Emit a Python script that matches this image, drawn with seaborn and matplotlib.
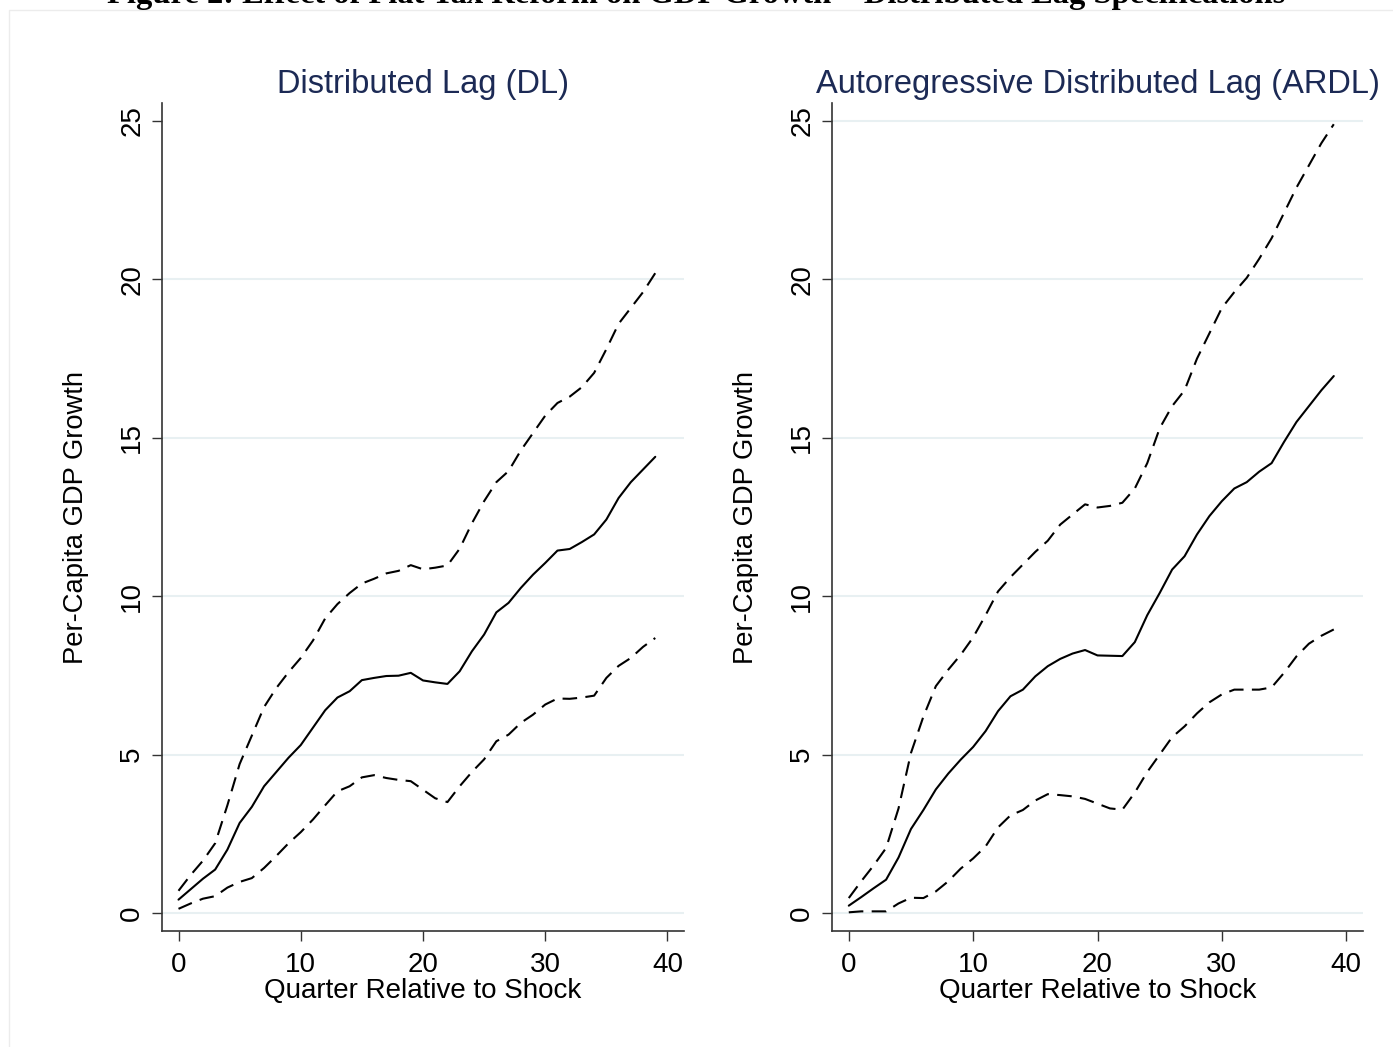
import matplotlib

matplotlib.use("Agg")
import matplotlib.pyplot as plt
import matplotlib.patches as mpatches
import numpy as np
import pandas as pd
import seaborn as sns

quarters = list(range(40))

# Distributed Lag (DL)
dl_est = [0.42, 0.75, 1.08, 1.37, 2.0, 2.84, 3.35, 4.0, 4.45, 4.9,
          5.3, 5.85, 6.4, 6.8, 7.0, 7.35, 7.42, 7.48, 7.49, 7.58,
          7.34, 7.28, 7.23, 7.63, 8.26, 8.79, 9.49, 9.79, 10.26, 10.68,
          11.05, 11.44, 11.49, 11.71, 11.95, 12.42, 13.1, 13.6, 14.0, 14.4]
dl_upper = [0.7, 1.2, 1.65, 2.2, 3.4, 4.7, 5.6, 6.5, 7.1, 7.6,
            8.05, 8.6, 9.3, 9.75, 10.1, 10.4, 10.55, 10.72, 10.8, 10.98,
            10.85, 10.9, 10.97, 11.5, 12.3, 13.0, 13.6, 13.95, 14.6, 15.15,
            15.7, 16.1, 16.3, 16.6, 17.05, 17.8, 18.6, 19.1, 19.6, 20.2]
dl_lower = [0.13, 0.3, 0.45, 0.53, 0.8, 0.98, 1.1, 1.42, 1.8, 2.2,
            2.55, 2.95, 3.4, 3.84, 4.0, 4.28, 4.35, 4.26, 4.2, 4.16,
            3.89, 3.62, 3.5, 4.0, 4.45, 4.85, 5.42, 5.63, 6.0, 6.26,
            6.58, 6.77, 6.76, 6.8, 6.86, 7.42, 7.8, 8.05, 8.4, 8.68]

# Autoregressive Distributed Lag (ARDL)
ardl_est = [0.23, 0.5, 0.78, 1.05, 1.75, 2.65, 3.25, 3.9, 4.4, 4.84,
            5.24, 5.74, 6.37, 6.84, 7.05, 7.47, 7.79, 8.02, 8.19, 8.3,
            8.13, 8.12, 8.11, 8.55, 9.4, 10.1, 10.84, 11.26, 11.95, 12.53,
            13.0, 13.4, 13.6, 13.93, 14.2, 14.87, 15.5, 16.0, 16.5, 16.95]
ardl_upper = [0.47, 1.0, 1.5, 2.05, 3.3, 5.05, 6.2, 7.16, 7.68, 8.15,
              8.7, 9.4, 10.15, 10.6, 11.0, 11.4, 11.75, 12.26, 12.58, 12.9,
              12.8, 12.85, 12.95, 13.4, 14.2, 15.3, 16.0, 16.5, 17.5, 18.3,
              19.1, 19.6, 20.05, 20.65, 21.3, 22.1, 22.9, 23.6, 24.3, 24.9]
ardl_lower = [0.02, 0.05, 0.05, 0.05, 0.3, 0.48, 0.47, 0.68, 1.0, 1.4,
              1.72, 2.1, 2.7, 3.08, 3.25, 3.55, 3.75, 3.72, 3.68, 3.6,
              3.45, 3.3, 3.26, 3.8, 4.45, 5.0, 5.55, 5.89, 6.3, 6.65,
              6.9, 7.05, 7.05, 7.05, 7.12, 7.58, 8.1, 8.5, 8.75, 8.95]

panel_titles = ["Distributed Lag (DL)", "Autoregressive Distributed Lag (ARDL)"]
x_ticks = [0, 10, 20, 30, 40]
y_ticks = [0, 5, 10, 15, 20, 25]


def long_frame(est, upper, lower):
    frames = []
    for name, vals in (("estimate", est), ("upper", upper), ("lower", lower)):
        frames.append(pd.DataFrame({"quarter": quarters, "value": vals, "band": name}))
    return pd.concat(frames, ignore_index=True)


panels = [long_frame(dl_est, dl_upper, dl_lower),
          long_frame(ardl_est, ardl_upper, ardl_lower)]

sns.set_style("white")
plt.rcParams["font.family"] = ["Liberation Sans", "DejaVu Sans"]
plt.rcParams["text.color"] = "black"
plt.rcParams["axes.labelcolor"] = "black"
plt.rcParams["xtick.labelcolor"] = "black"
plt.rcParams["ytick.labelcolor"] = "black"

W, H = 1393, 1047
fig = plt.figure(figsize=(W / 100, H / 100), dpi=100)

# faint frame around the graph region
fig.patches.append(mpatches.Rectangle((9 / W, -0.02), 1.1, (H - 10) / H + 0.02,
                                      transform=fig.transFigure, fill=False,
                                      edgecolor="#ececec", linewidth=1))

# page title, clipped at the top edge as in the source scan
fig.text(0.5, 1 - 3 / H,
         "Figure 2: Effect of Flat Tax Reform on GDP Growth \u2013 Distributed Lag Specifications",
         ha="center", va="baseline", fontsize=23.4, fontweight="bold",
         family=["Liberation Serif", "DejaVu Serif"])

boxes = [(162, 684), (832, 1363)]
top_px, bottom_px = 103, 931
dash = (7, 4)

for i, (df, title, (x0, x1)) in enumerate(zip(panels, panel_titles, boxes)):
    ax = fig.add_axes([x0 / W, 1 - bottom_px / H, (x1 - x0) / W, (bottom_px - top_px) / H])
    grid_vals = y_ticks if i == 1 else y_ticks[:-1]
    for g in grid_vals:
        ax.axhline(g, color="#e8f0f2", linewidth=1.5, zorder=0)
    sns.lineplot(data=df, x="quarter", y="value", style="band",
                 dashes={"estimate": "", "upper": dash, "lower": dash},
                 color="black", linewidth=1.5, legend=False, ax=ax)
    ax.set_xlim(-1.35, 41.35)
    ax.set_ylim(-0.57, 25.57)
    ax.set_xticks(x_ticks)
    ax.set_yticks(y_ticks)
    ax.set_xticklabels([str(t) for t in x_ticks], fontsize=20)
    ax.set_yticklabels([str(t) for t in y_ticks], fontsize=20, rotation=90, va="center")
    ax.tick_params(axis="x", direction="out", length=7, width=1, color="#333333",
                   pad=8, bottom=True)
    ax.tick_params(axis="y", direction="out", length=7, width=1, color="#333333",
                   pad=5, left=True)
    for side in ("top", "right"):
        ax.spines[side].set_visible(False)
    for side in ("left", "bottom"):
        ax.spines[side].set_color("#333333")
        ax.spines[side].set_linewidth(1.2)
    ax.set_xlabel("Quarter Relative to Shock", fontsize=20, labelpad=0)
    ax.set_ylabel("Per-Capita GDP Growth", fontsize=19.7, labelpad=22)
    ax.set_title(title, fontsize=23.5, color="#1c2a55", pad=7)

fig.savefig("out.png", dpi=100)
